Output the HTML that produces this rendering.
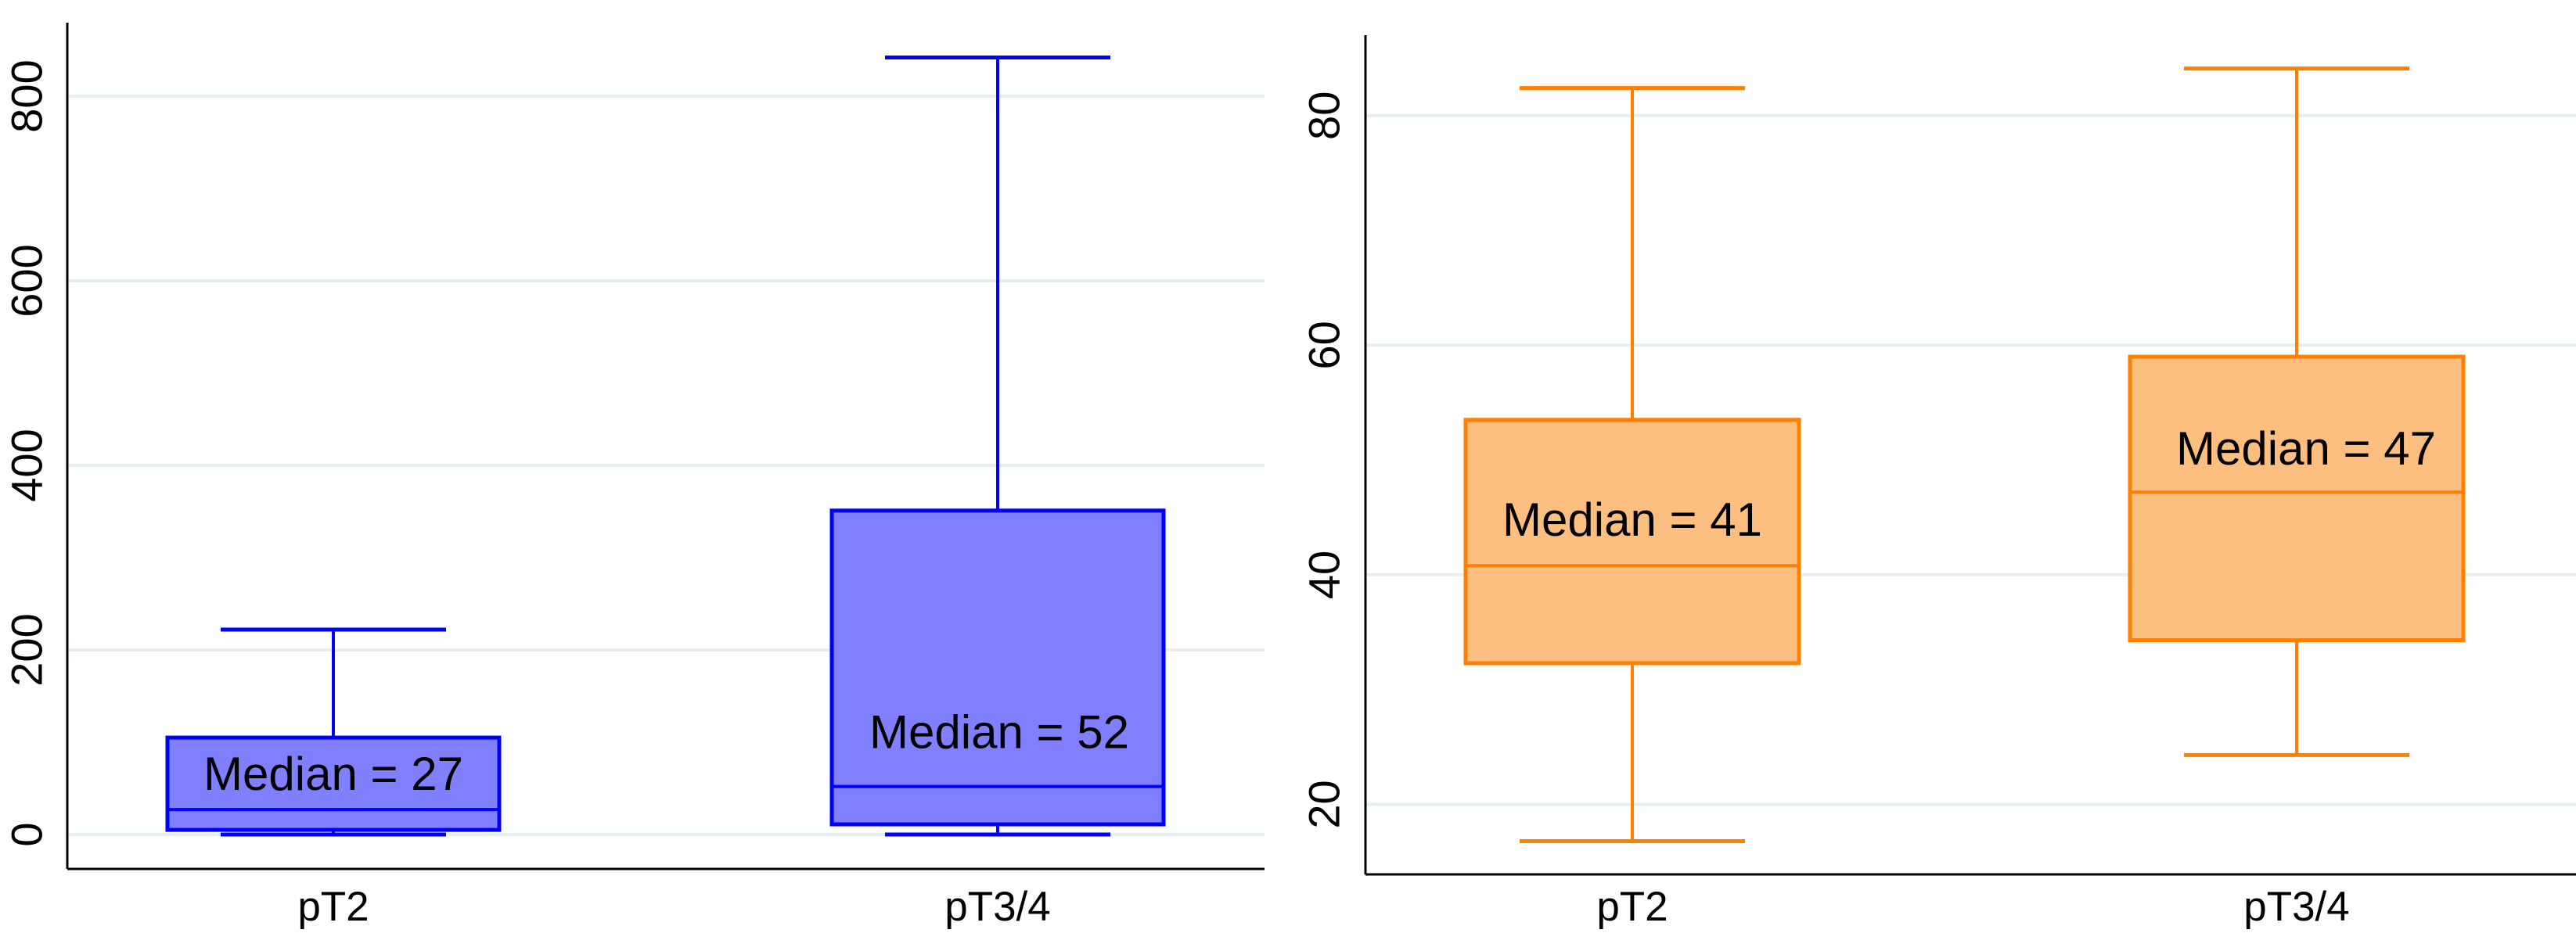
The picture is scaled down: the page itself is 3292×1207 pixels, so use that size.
<!DOCTYPE html>
<html><head><meta charset="utf-8"><style>
html,body{margin:0;padding:0;background:#fff}
svg{display:block}
text{font-family:"Liberation Sans",Arial,sans-serif;fill:#000}
</style></head><body>
<svg id="c" width="3292" height="1207" viewBox="0 0 3292 1207" xmlns="http://www.w3.org/2000/svg"></svg>
<script>
// Left chart data
const leftCategories = ["pT2", "pT3/4"];
const leftMin = [0, 0];
const leftQ1 = [5, 11];
const leftMedian = [27, 52];
const leftQ3 = [105, 351];
const leftMax = [222, 842];
const leftMedianLabels = ["Median = 27", "Median = 52"];
const leftTicks = [0, 200, 400, 600, 800];
// Right chart data
const rightCategories = ["pT2", "pT3/4"];
const rightMin = [16.8, 24.3];
const rightQ1 = [32.3, 34.3];
const rightMedian = [40.8, 47.2];
const rightQ3 = [53.5, 59.0];
const rightMax = [82.4, 84.1];
const rightMedianLabels = ["Median = 41", "Median = 47"];
const rightTicks = [20, 40, 60, 80];

const NS = "http://www.w3.org/2000/svg";
const svg = document.getElementById("c");
function mk(tag, attrs, parent) {
  const e = document.createElementNS(NS, tag);
  for (const k in attrs) e.setAttribute(k, attrs[k]);
  (parent || svg).appendChild(e);
  return e;
}

function drawPanel(p) {
  const g = mk("g", {});
  
  
  const y = v => p.y0 + (v - p.v0) * (p.y1 - p.y0) / (p.v1 - p.v0);
  p.ticks.forEach(t => {
    const gl = mk("line", {x1: p.axisX, x2: p.right, y1: y(t), y2: y(t), stroke: "#e6efef", "stroke-width": 4}, g);
    
    
    const tl = mk("text", {x: p.tickX, y: y(t), "font-size": 56, "text-anchor": "middle", "dominant-baseline": "central", transform: `rotate(-90 ${p.tickX} ${y(t)})`}, g);
    tl.textContent = t;
    
    
  });
  const ya = mk("line", {x1: p.axisX, x2: p.axisX, y1: p.top, y2: p.bottom, stroke: "#000", "stroke-width": 3}, g);
  
  
  const xa = mk("line", {x1: p.axisX, x2: p.right, y1: p.bottom, y2: p.bottom, stroke: "#000", "stroke-width": 3}, g);
  
  
  p.cats.forEach((c, i) => {
    const cx = p.centers[i];
    const hw = p.boxHalf, cw = p.capHalf;
    const bg = mk("g", {}, g);
    
    
    mk("line", {x1: cx, x2: cx, y1: y(p.max[i]), y2: y(p.q3[i]), stroke: p.stroke, "stroke-width": 4}, bg);
    mk("line", {x1: cx, x2: cx, y1: y(p.q1[i]), y2: y(p.min[i]), stroke: p.stroke, "stroke-width": 4}, bg);
    mk("line", {x1: cx - cw, x2: cx + cw, y1: y(p.max[i]), y2: y(p.max[i]), stroke: p.stroke, "stroke-width": 5}, bg);
    mk("line", {x1: cx - cw, x2: cx + cw, y1: y(p.min[i]), y2: y(p.min[i]), stroke: p.stroke, "stroke-width": 5}, bg);
    mk("rect", {x: cx - hw, y: y(p.q3[i]), width: 2 * hw, height: y(p.q1[i]) - y(p.q3[i]), fill: p.fill, stroke: p.stroke, "stroke-width": 5}, bg);
    mk("line", {x1: cx - hw, x2: cx + hw, y1: y(p.med[i]), y2: y(p.med[i]), stroke: p.stroke, "stroke-width": 4}, bg);
    const ml = mk("text", {x: p.labelX[i], y: y(p.med[i]) - p.labelOff[i], "font-size": 60, "text-anchor": "middle"}, bg);
    ml.textContent = p.labels[i];
    
    
    const xl = mk("text", {x: cx, y: 1177, "font-size": 53, "text-anchor": "middle"}, g);
    xl.textContent = c;
    
    
  });
}

drawPanel({name: "left-chart", v0: 0, v1: 800, y0: 1067, y1: 123, axisX: 86, right: 1616, top: 29, bottom: 1111, tickX: 34,
  ticks: leftTicks, cats: leftCategories, centers: [426, 1275], boxHalf: 212, capHalf: 144,
  min: leftMin, q1: leftQ1, med: leftMedian, q3: leftQ3, max: leftMax, labels: leftMedianLabels,
  labelX: [426, 1277], labelOff: [25, 49], stroke: "#0000ff", fill: "#8080ff"});
drawPanel({name: "right-chart", v0: 20, v1: 80, y0: 1028.5, y1: 147.8, axisX: 1745, right: 3292, top: 45, bottom: 1118, tickX: 1692,
  ticks: rightTicks, cats: rightCategories, centers: [2086, 2935], boxHalf: 213, capHalf: 144,
  min: rightMin, q1: rightQ1, med: rightMedian, q3: rightQ3, max: rightMax, labels: rightMedianLabels,
  labelX: [2086, 2947], labelOff: [38, 35], stroke: "#ff8000", fill: "#fdbf80"});
</script>
</body></html>
